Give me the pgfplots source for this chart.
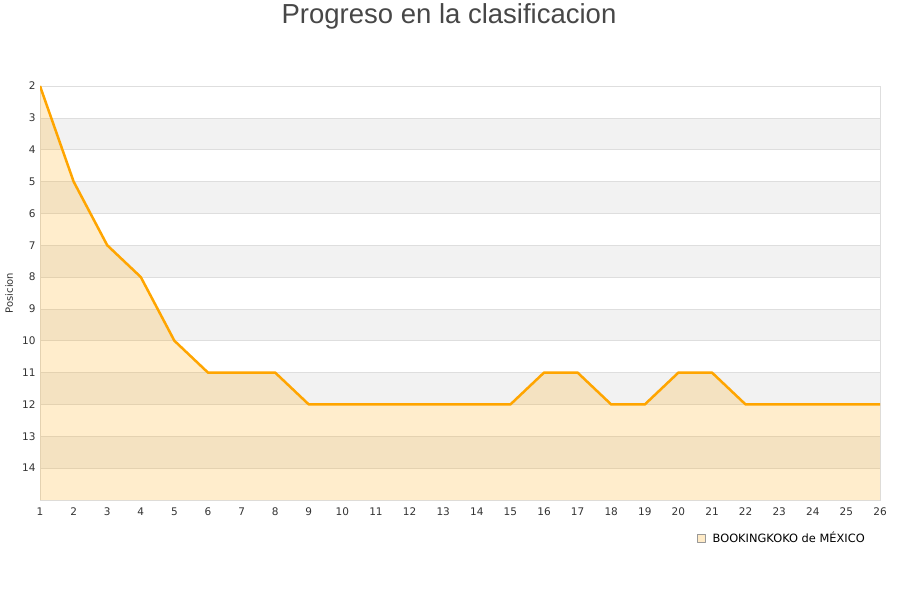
\documentclass[border=0pt]{standalone}
\usepackage{fontspec}
\setmainfont{DejaVu Sans}
\newfontfamily\titlefont{Liberation Sans}
\usepackage{pgfplots}
\pgfplotsset{compat=1.18}
\usepgfplotslibrary{fillbetween}
\definecolor{lineor}{HTML}{FFA500}
\definecolor{band}{HTML}{F2F2F2}
\definecolor{gridc}{HTML}{DEDEDE}
\definecolor{txt}{HTML}{333333}
\begin{document}
\begin{tikzpicture}
\node[font=\titlefont\fontsize{27.5}{30}\selectfont, text=txt!90!white] at (409pt,484pt) {Progreso en la clasificacion};
\begin{axis}[
  at={(0pt,0pt)}, anchor=south west,
  width=840pt, height=414pt, scale only axis,
  set layers,
  xmin=1, xmax=26, ymin=2, ymax=15,
  y dir=reverse,
  xtick={1,...,26}, ytick={2,...,14},
  major tick length=0pt,
  axis line style={gridc},
  ymajorgrids, grid style={gridc, line width=0.6pt},
  /pgf/number format/assume math mode=true,
  tick label style={font=\fontsize{10.5}{12}\selectfont, text=txt},
  xticklabel style={yshift=-4.5pt},
  yticklabel style={xshift=-1pt},
  ylabel={Posicion},
  ylabel style={font=\fontsize{10}{12}\selectfont, text=txt, at={(axis description cs:-0.028,0.5)}},
  legend style={at={(axis description cs:0.988,-0.092)}, anchor=east, draw=none, fill=none,
    font=\fontsize{11.4}{13}\selectfont, text=black},
  legend cell align=left,
]
\pgfonlayer{axis background}
\pgfplotsinvokeforeach{3,5,7,9,11,13}{
  \fill[band] (axis cs:1,#1) rectangle (axis cs:26,#1+1);
}
\endpgfonlayer
\addplot[name path=A, draw=none, forget plot] coordinates {
(1,2) (2,5) (3,7) (4,8) (5,10) (6,11) (7,11) (8,11) (9,12) (10,12) (11,12) (12,12) (13,12)
(14,12) (15,12) (16,11) (17,11) (18,12) (19,12) (20,11) (21,11) (22,12) (23,12) (24,12) (25,12) (26,12)};
\addplot[name path=B, draw=none, forget plot] coordinates {(1,15) (26,15)};
\addplot[fill=lineor, fill opacity=0.2, draw=none, forget plot] fill between[of=A and B];
\addplot[lineor, line width=2.5pt, line join=round, mark=none,
  legend image code/.code={\path[draw=gray!80, fill=lineor!22, line width=0.5pt] (0pt,-4pt) rectangle (8pt,4pt); \path[draw=none, fill=none] (0pt,0pt) -- (13pt,0pt);}] coordinates {
(1,2) (2,5) (3,7) (4,8) (5,10) (6,11) (7,11) (8,11) (9,12) (10,12) (11,12) (12,12) (13,12)
(14,12) (15,12) (16,11) (17,11) (18,12) (19,12) (20,11) (21,11) (22,12) (23,12) (24,12) (25,12) (26,12)};
\addlegendentry{BOOKINGKOKO de MÉXICO}
\end{axis}
\pgfresetboundingbox
\path (-40pt,-100pt) rectangle (860pt,500pt);
\end{tikzpicture}
\end{document}
